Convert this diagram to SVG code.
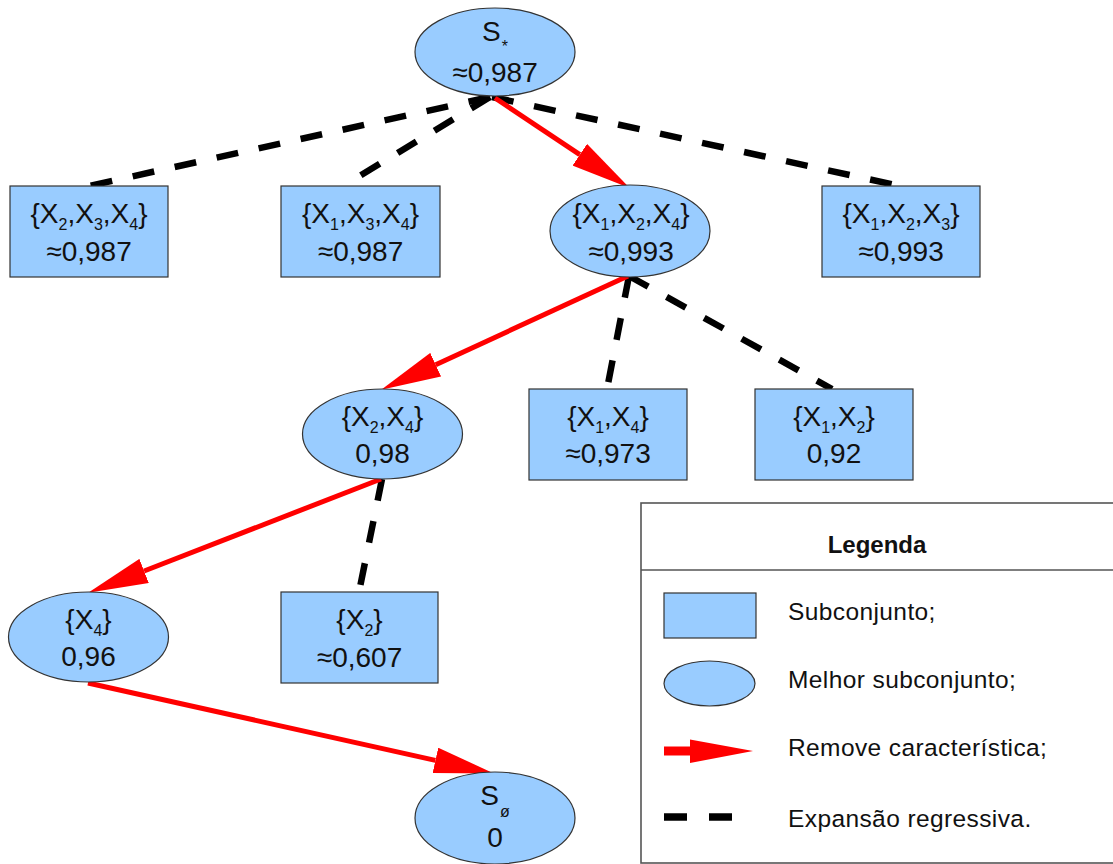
<svg xmlns="http://www.w3.org/2000/svg" width="1113" height="864" viewBox="0 0 1113 864">
  <defs>
    <marker id="ah" markerUnits="userSpaceOnUse" markerWidth="60" markerHeight="26" viewBox="0 0 60 26" refX="0" refY="13" orient="auto">
      <path d="M0,0 L60,13 L0,26 Z" fill="#ff0000"/>
    </marker>
    <style>
      .box { fill: #99ccff; stroke: #333333; stroke-width: 1.2; }
      .lbl { font-family: "Liberation Sans", Arial, sans-serif; font-size: 28px; fill: #111111; text-anchor: middle; }
      .sub { font-size: 16px; }
      .dash { fill: none; stroke: #000000; stroke-width: 6.5; stroke-dasharray: 22 21; }
      .red { fill: none; stroke: #ff0000; stroke-width: 5; marker-end: url(#ah); }
      .leg { font-family: "Liberation Sans", Arial, sans-serif; font-size: 24.5px; letter-spacing: 0.4px; fill: #111111; }
    </style>
  </defs>
  <rect width="1113" height="864" fill="#ffffff"/>

  <!-- connectors -->
  <g id="connectors">
    <path class="dash" d="M490,97 L89,186"/>
    <path class="dash" d="M490,97 L343,186"/>
    <path class="dash" d="M492,97 L900,186"/>
    <path class="dash" d="M629,276 L607,389"/>
    <path class="dash" d="M629,276 L832,389"/>
    <path class="dash" d="M382,479 L359,592"/>
    <path class="red" d="M495,98 L579.8,154.7"/>
    <path class="red" d="M628,276 L435.7,364.7"/>
    <path class="red" d="M381,479 L144.1,571"/>
    <path class="red" d="M88,683 L435.4,760.4"/>
  </g>

  <!-- root S* -->
  <g id="n-root">
    <ellipse class="box" cx="495" cy="52" rx="80" ry="44"/>
    <text class="lbl" x="495" y="41">S<tspan class="sub" font-size="17px" dx="1" dy="11">*</tspan></text>
    <text class="lbl" x="495" y="82">≈0,987</text>
  </g>

  <g id="n-x2x3x4">
    <rect class="box" x="10" y="186" width="158" height="91"/>
    <text class="lbl" x="89" y="223">{X<tspan class="sub" dy="7">2</tspan><tspan dy="-7">,X</tspan><tspan class="sub" dy="7">3</tspan><tspan dy="-7">,X</tspan><tspan class="sub" dy="7">4</tspan><tspan dy="-7">}</tspan></text>
    <text class="lbl" x="89" y="261">≈0,987</text>
  </g>

  <g id="n-x1x3x4">
    <rect class="box" x="281" y="186" width="159" height="91"/>
    <text class="lbl" x="360.5" y="223">{X<tspan class="sub" dy="7">1</tspan><tspan dy="-7">,X</tspan><tspan class="sub" dy="7">3</tspan><tspan dy="-7">,X</tspan><tspan class="sub" dy="7">4</tspan><tspan dy="-7">}</tspan></text>
    <text class="lbl" x="360.5" y="261">≈0,987</text>
  </g>

  <g id="n-x1x2x4">
    <ellipse class="box" cx="630" cy="231" rx="80" ry="46"/>
    <text class="lbl" x="631" y="223">{X<tspan class="sub" dy="7">1</tspan><tspan dy="-7">,X</tspan><tspan class="sub" dy="7">2</tspan><tspan dy="-7">,X</tspan><tspan class="sub" dy="7">4</tspan><tspan dy="-7">}</tspan></text>
    <text class="lbl" x="631" y="261">≈0,993</text>
  </g>

  <g id="n-x1x2x3">
    <rect class="box" x="822" y="186" width="158" height="91"/>
    <text class="lbl" x="901" y="223">{X<tspan class="sub" dy="7">1</tspan><tspan dy="-7">,X</tspan><tspan class="sub" dy="7">2</tspan><tspan dy="-7">,X</tspan><tspan class="sub" dy="7">3</tspan><tspan dy="-7">}</tspan></text>
    <text class="lbl" x="901" y="261">≈0,993</text>
  </g>

  <g id="n-x2x4">
    <ellipse class="box" cx="382.5" cy="434" rx="80" ry="45"/>
    <text class="lbl" x="382.5" y="426">{X<tspan class="sub" dy="7">2</tspan><tspan dy="-7">,X</tspan><tspan class="sub" dy="7">4</tspan><tspan dy="-7">}</tspan></text>
    <text class="lbl" x="382.5" y="463">0,98</text>
  </g>

  <g id="n-x1x4">
    <rect class="box" x="529" y="389" width="158" height="91"/>
    <text class="lbl" x="608" y="426">{X<tspan class="sub" dy="7">1</tspan><tspan dy="-7">,X</tspan><tspan class="sub" dy="7">4</tspan><tspan dy="-7">}</tspan></text>
    <text class="lbl" x="608" y="463">≈0,973</text>
  </g>

  <g id="n-x1x2">
    <rect class="box" x="755" y="389" width="158" height="91"/>
    <text class="lbl" x="834" y="426">{X<tspan class="sub" dy="7">1</tspan><tspan dy="-7">,X</tspan><tspan class="sub" dy="7">2</tspan><tspan dy="-7">}</tspan></text>
    <text class="lbl" x="834" y="463">0,92</text>
  </g>

  <g id="n-x4">
    <ellipse class="box" cx="88.5" cy="637" rx="80" ry="45"/>
    <text class="lbl" x="88.5" y="629">{X<tspan class="sub" dy="7">4</tspan><tspan dy="-7">}</tspan></text>
    <text class="lbl" x="88.5" y="666">0,96</text>
  </g>

  <g id="n-x2">
    <rect class="box" x="281" y="592" width="157" height="91"/>
    <text class="lbl" x="359.5" y="629">{X<tspan class="sub" dy="7">2</tspan><tspan dy="-7">}</tspan></text>
    <text class="lbl" x="359.5" y="667">≈0,607</text>
  </g>

  <g id="n-empty">
    <ellipse class="box" cx="495" cy="818" rx="80" ry="46"/>
    <text class="lbl" x="495" y="805">S<tspan class="sub" font-size="18px" dx="1" dy="12">ø</tspan></text>
    <text class="lbl" x="495" y="847">0</text>
  </g>

  <!-- legend -->
  <g id="legend">
    <rect x="641" y="503" width="490" height="360" fill="#ffffff" stroke="#555555" stroke-width="1.6"/>
    <line x1="641" y1="570" x2="1113" y2="570" stroke="#555555" stroke-width="1.6"/>
    <text x="877" y="553" font-family="'Liberation Sans', Arial, sans-serif" font-size="24" font-weight="bold" text-anchor="middle" fill="#111111">Legenda</text>
    <rect class="box" x="664" y="593" width="92" height="45"/>
    <text class="leg" x="788" y="620">Subconjunto;</text>
    <ellipse class="box" cx="709.5" cy="683.5" rx="45.5" ry="22.5"/>
    <text class="leg" x="788" y="688">Melhor subconjunto;</text>
    <line x1="664" y1="751" x2="692" y2="751" stroke="#ff0000" stroke-width="9"/>
    <path d="M690,739.5 L753,751 L690,763 Z" fill="#ff0000"/>
    <text class="leg" x="788" y="756">Remove característica;</text>
    <line x1="664" y1="817" x2="687" y2="817" stroke="#000000" stroke-width="7.5"/>
    <line x1="709" y1="817" x2="732" y2="817" stroke="#000000" stroke-width="7.5"/>
    <text class="leg" x="788" y="827">Expansão regressiva.</text>
  </g>
</svg>
